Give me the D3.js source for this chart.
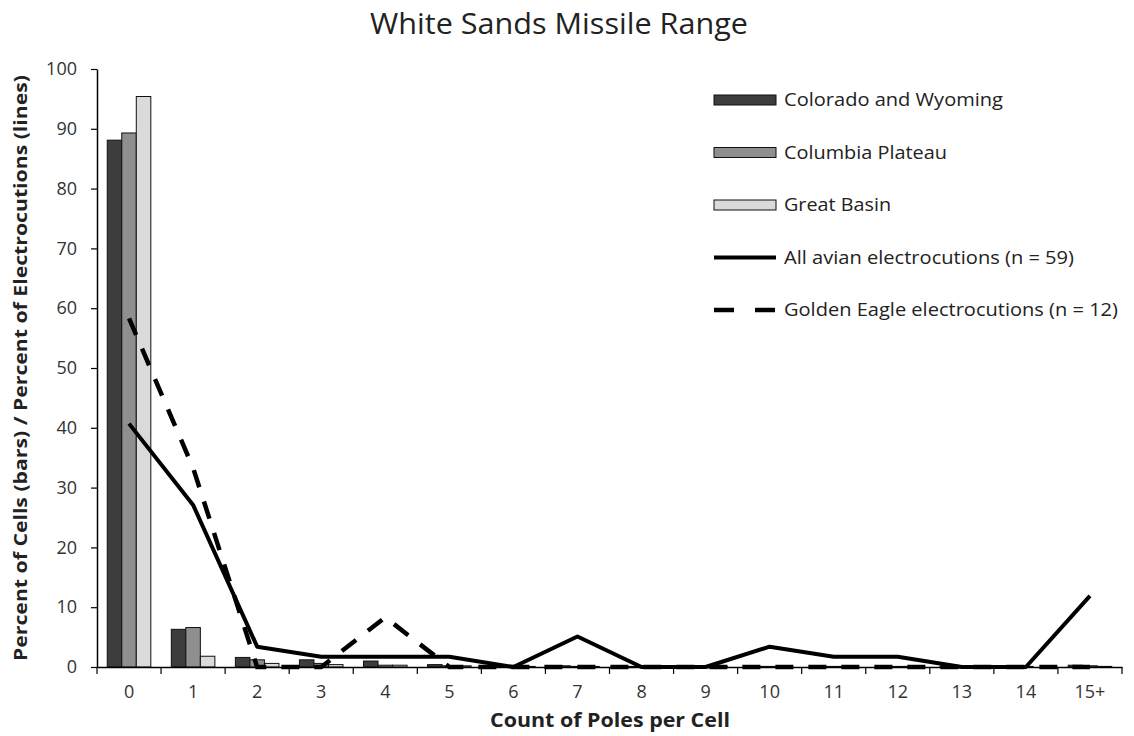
<!DOCTYPE html>
<html>
<head>
<meta charset="utf-8">
<script src="https://cdn.jsdelivr.net/npm/d3@7"></script>
<style>
  body { margin: 0; background: #fff; }
  svg { font-family: "Open Sans", "Liberation Sans", sans-serif; }
</style>
</head>
<body>
<div id="chart"></div>
<script>
// categories and values
const categories = ["0","1","2","3","4","5","6","7","8","9","10","11","12","13","14","15+"];
const seriesNames = ["Colorado and Wyoming", "Columbia Plateau", "Great Basin"];
const coloradoWyoming = [88.1, 6.3, 1.6, 1.2, 1.0, 0.4, 0.3, 0.2, 0.1, 0.1, 0.1, 0.1, 0.1, 0.1, 0.1, 0.3];
const columbiaPlateau = [89.3, 6.6, 1.2, 0.6, 0.3, 0.2, 0.2, 0.1, 0.1, 0.1, 0.1, 0.1, 0.1, 0.1, 0.1, 0.2];
const greatBasin      = [95.4, 1.8, 0.6, 0.4, 0.3, 0.2, 0.1, 0.1, 0.1, 0.1, 0.1, 0.1, 0.1, 0.0, 0.0, 0.1];
const allAvian    = [40.7, 27.1, 3.4, 1.7, 1.7, 1.7, 0, 5.1, 0, 0, 3.4, 1.7, 1.7, 0, 0, 11.9];
const goldenEagle = [58.3, 33.3, 0, 0, 8.3, 0, 0, 0, 0, 0, 0, 0, 0, 0, 0, 0];
const lineNames = ["All avian electrocutions (n = 59)", "Golden Eagle electrocutions (n = 12)"];
const yTicks = [0, 10, 20, 30, 40, 50, 60, 70, 80, 90, 100];

const width = 1134, height = 736;
const margin = {top: 69, right: 12, bottom: 69, left: 97};
const barColors = ["#3d3d3d", "#8f8f8f", "#dadada"];
const barSeries = [coloradoWyoming, columbiaPlateau, greatBasin];

const svg = d3.select("#chart").append("svg")
    .attr("width", width)
    .attr("height", height);

const x = d3.scaleBand()
    .domain(categories)
    .range([margin.left, width - margin.right])
    .padding(0);

// bars sit in the middle 68% of each band
const xInner = d3.scaleBand()
    .domain(d3.range(seriesNames.length))
    .range([0, x.bandwidth() * 0.68]);
const groupOffset = x.bandwidth() * 0.16;

const y = d3.scaleLinear()
    .domain([0, 100])
    .range([height - margin.bottom, margin.top]);

// title
svg.append("text")
    .attr("x", 559)
    .attr("y", 34)
    .attr("text-anchor", "middle")
    .attr("font-size", 29)
    .attr("fill", "#222")
    .attr("textLength", 378)
    .attr("lengthAdjust", "spacingAndGlyphs")
    .text("White Sands Missile Range");

// bars
barSeries.forEach((vals, s) => {
    svg.append("g")
        .selectAll("rect")
        .data(vals)
        .join("rect")
        .attr("x", (d, i) => x(categories[i]) + groupOffset + xInner(s))
        .attr("y", d => y(d))
        .attr("width", xInner.bandwidth())
        .attr("height", d => y(0) - y(d))
        .attr("fill", barColors[s])
        .attr("stroke", "#111")
        .attr("stroke-width", 1);
});

// lines
const line = d3.line()
    .x((d, i) => x(categories[i]) + x.bandwidth() / 2)
    .y(d => y(d));

svg.append("path")
    .datum(goldenEagle)
    .attr("d", line)
    .attr("fill", "none")
    .attr("stroke", "#000")
    .attr("stroke-width", 4.5)
    .attr("stroke-dasharray", "18,15");

svg.append("path")
    .datum(allAvian)
    .attr("d", line)
    .attr("fill", "none")
    .attr("stroke", "#000")
    .attr("stroke-width", 4)
    .attr("stroke-linejoin", "round");

// y axis
const yAxis = svg.append("g")
    .attr("transform", `translate(${margin.left},0)`)
    .call(d3.axisLeft(y).tickValues(yTicks).tickSize(6).tickSizeOuter(0));
yAxis.select(".domain").attr("stroke", "#000").attr("stroke-width", 1.5);
yAxis.selectAll(".tick line").attr("stroke", "#000").attr("stroke-width", 1.2);
yAxis.selectAll(".tick text")
    .attr("x", -20)
    .attr("font-size", 18)
    .attr("font-family", "Open Sans, sans-serif")
    .attr("fill", "#333");

// x axis: labels under band centers, ticks on band edges
const xAxis = svg.append("g")
    .attr("transform", `translate(0,${y(0)})`)
    .call(d3.axisBottom(x).tickSize(0).tickPadding(18));
xAxis.select(".domain").attr("stroke", "#000").attr("stroke-width", 1.5);
xAxis.selectAll(".tick text")
    .attr("font-size", 18)
    .attr("font-family", "Open Sans, sans-serif")
    .attr("fill", "#333");

svg.append("g")
    .selectAll("line")
    .data(categories.concat(["end"]))
    .join("line")
    .attr("x1", (d, i) => i < categories.length ? x(d) : x.range()[1])
    .attr("x2", (d, i) => i < categories.length ? x(d) : x.range()[1])
    .attr("y1", y(0))
    .attr("y2", y(0) + 7)
    .attr("stroke", "#000")
    .attr("stroke-width", 1.2);

// axis titles
svg.append("text")
    .attr("x", 610)
    .attr("y", 727)
    .attr("text-anchor", "middle")
    .attr("font-size", 19)
    .attr("font-weight", "bold")
    .attr("fill", "#222")
    .attr("textLength", 240)
    .attr("lengthAdjust", "spacingAndGlyphs")
    .text("Count of Poles per Cell");

svg.append("text")
    .attr("transform", `translate(27,${(y(0) + y(100)) / 2}) rotate(-90)`)
    .attr("text-anchor", "middle")
    .attr("font-size", 17)
    .attr("font-weight", "bold")
    .attr("fill", "#222")
    .attr("textLength", 586)
    .attr("lengthAdjust", "spacingAndGlyphs")
    .text("Percent of Cells (bars) / Percent of Electrocutions (lines)");

// legend
const legend = svg.append("g").attr("transform", "translate(714,100)");
const rowGap = 52.5;
const legendWidths = [219, 163, 107, 290, 334];

seriesNames.forEach((name, i) => {
    const g = legend.append("g").attr("transform", `translate(0,${i * rowGap})`);
    g.append("rect")
        .attr("x", 0).attr("y", -5)
        .attr("width", 62).attr("height", 10)
        .attr("fill", barColors[i])
        .attr("stroke", "#111")
        .attr("stroke-width", 1);
    g.append("text")
        .attr("x", 70).attr("y", 6)
        .attr("font-size", 18)
        .attr("fill", "#222")
        .attr("textLength", legendWidths[i])
        .attr("lengthAdjust", "spacingAndGlyphs")
        .text(name);
});

lineNames.forEach((name, i) => {
    const g = legend.append("g").attr("transform", `translate(0,${(i + 3) * rowGap})`);
    g.append("line")
        .attr("x1", 0).attr("x2", 62)
        .attr("y1", 0).attr("y2", 0)
        .attr("stroke", "#000")
        .attr("stroke-width", i === 0 ? 4 : 4.5)
        .attr("stroke-dasharray", i === 0 ? null : "20,21");
    g.append("text")
        .attr("x", 70).attr("y", 6)
        .attr("font-size", 18)
        .attr("fill", "#222")
        .attr("textLength", legendWidths[i + 3])
        .attr("lengthAdjust", "spacingAndGlyphs")
        .text(name);
});
</script>
</body>
</html>
